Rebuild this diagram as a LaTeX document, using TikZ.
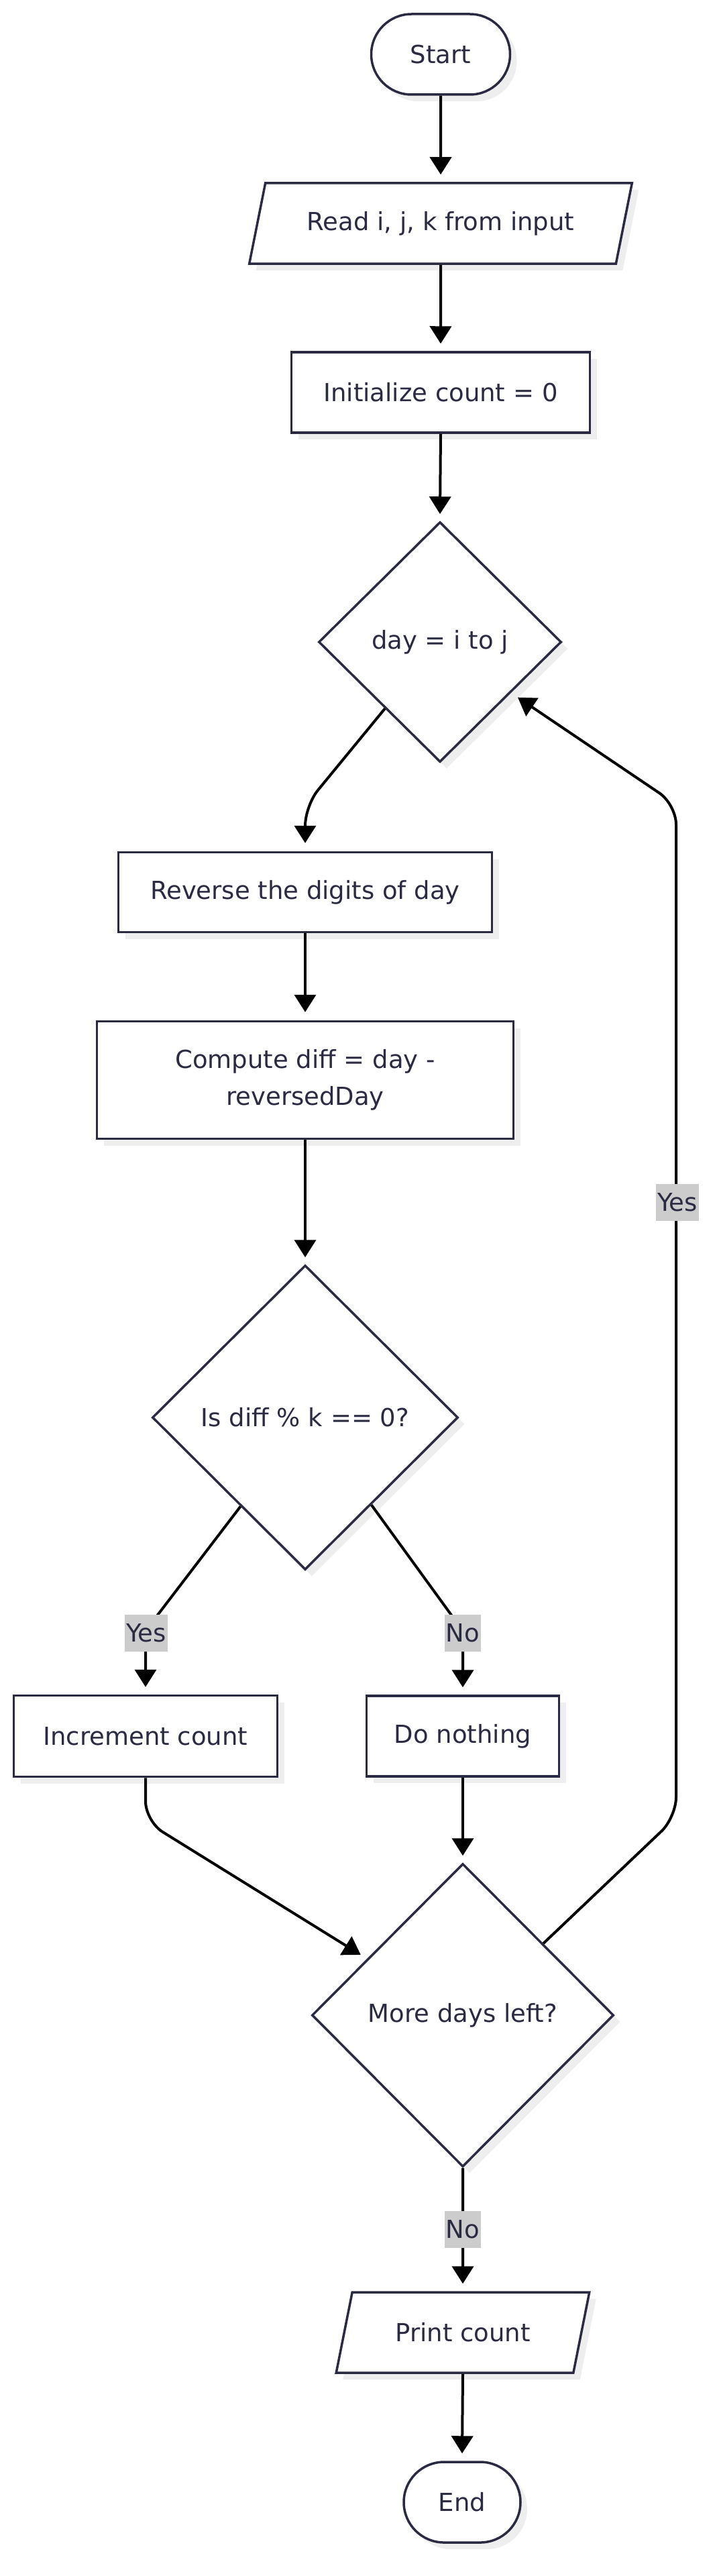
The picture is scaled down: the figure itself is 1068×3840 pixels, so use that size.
\documentclass[tikz,border=0pt]{standalone}
\usepackage{fontspec}
\setmainfont{DejaVu Sans}
\usetikzlibrary{arrows.meta,shapes.geometric,calc,shadows}
\definecolor{ink}{HTML}{2A2A42}
\definecolor{shade}{HTML}{EEEEEE}
\definecolor{lab}{HTML}{CCCCCC}
\begin{document}
\begin{tikzpicture}[x=1pt,y=-1pt,
  font=\fontsize{37}{55}\selectfont,
  base/.style={draw=ink, line width=3.5pt, fill=white, text=ink, inner sep=0pt, align=center,
    drop shadow={shadow xshift=10pt, shadow yshift=-10pt, fill=shade, opacity=1}},
  procbox/.style={base, rectangle},
  termbox/.style={base, rectangle, rounded corners=60pt, minimum height=120pt},
  iobox/.style={base, trapezium, trapezium left angle=63, trapezium right angle=117,
    trapezium stretches=true, minimum height=120pt},
  decbox/.style={base, diamond},
  conn/.style={draw=black, line width=4pt, rounded corners=30pt,
    -{Triangle[length=26pt,width=32pt]}},
  lbl/.style={fill=lab, text=ink, inner xsep=2pt, inner ysep=0pt, minimum height=55pt}
]
\useasboundingbox (0,0) rectangle (1068,3840);
\fill[white] (0,0) rectangle (1068,3840);

% nodes
\node[termbox, minimum width=207pt] (start) at (657,81) {Start};
\node[iobox, minimum width=573pt] (read) at (657,333) {Read i, j, k from input};
\node[procbox, minimum width=445pt, minimum height=120pt] (init) at (657,585) {Initialize count = 0};
\node[decbox, minimum width=362pt, minimum height=358pt] (d1) at (656,957) {day = i to j};
\node[procbox, minimum width=557pt, minimum height=119pt] (rev) at (455,1330) {Reverse the digits of day};
\node[procbox, minimum width=621pt, minimum height=175pt] (comp) at (455,1610) {Compute diff = day -\\reversedDay};
\node[decbox, minimum width=456pt, minimum height=454pt] (d2) at (455,2113) {Is diff \% k == 0?};
\node[procbox, minimum width=393pt, minimum height=121pt] (inc) at (217,2588) {Increment count};
\node[procbox, minimum width=287pt, minimum height=120pt] (nothing) at (690,2588) {Do nothing};
\node[decbox, minimum width=450pt, minimum height=452pt] (d3) at (690,3004) {More days left?};
\node[iobox, minimum width=378pt] (print) at (690,3477) {Print count};
\node[termbox, minimum width=174pt] (finish) at (689,3730) {End};

% bend points
\coordinate (b1) at (455,1201);
\coordinate (b2) at (217,2431);
\coordinate (b3) at (690,2431);
\coordinate (b4) at (217,2715);
\coordinate (b5) at (1008,2709);
\coordinate (b6) at (1008,1199);

% connectors
\draw[conn] (start.south) -- ([yshift=11pt]read.north);
\draw[conn] (read.south) -- ([yshift=11pt]init.north);
\draw[conn] (init.south) -- ([yshift=10pt]d1.north);
\draw[conn] ($(d1.west)!0.55!(d1.south)$) -- (b1) -- ([yshift=12pt]rev.north);
\draw[conn] (rev.south) -- ([yshift=12pt]comp.north);
\draw[conn] (comp.south) -- ([yshift=10pt]d2.north);
\draw[conn] ($(d2.west)!0.58!(d2.south)$) -- (b2) -- ([yshift=11pt]inc.north);
\draw[conn] ($(d2.south)!0.43!(d2.east)$) -- (b3) -- ([yshift=11pt]nothing.north);
\draw[conn, shorten >=11pt] (inc.south) -- (b4) -- ($(d3.west)!0.37!(d3.north)$);
\draw[conn] (nothing.south) -- ([yshift=10pt]d3.north);
\draw[conn, shorten >=12pt] ($(d3.north)!0.53!(d3.east)$) -- (b5) -- (b6) -- ($(d1.south)!0.58!(d1.east)$);
\draw[conn] (d3.south) -- ([yshift=11pt]print.north);
\draw[conn] (print.south) -- ([yshift=11pt]finish.north);

% edge labels
\node[lbl] (ly1) at (218,2434) {Yes};
\node[lbl] (ln1) at (690,2434) {No};
\node[lbl] (ly2) at (1010,1792) {Yes};
\node[lbl] (ln2) at (690,3323) {No};
\end{tikzpicture}
\end{document}
